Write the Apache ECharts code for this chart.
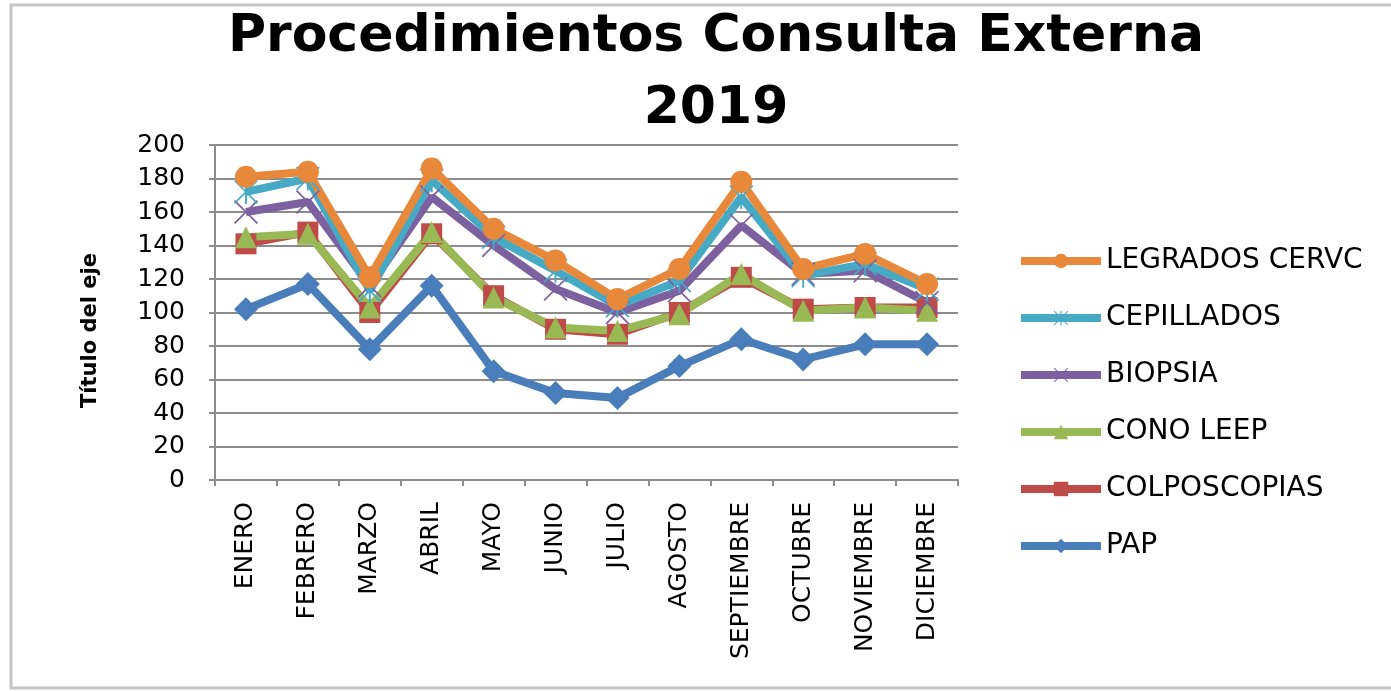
<!DOCTYPE html>
<html lang="es">
<head>
    <meta charset="UTF-8">
    <title>Procedimientos Consulta Externa 2019</title>
    <script src="https://cdn.jsdelivr.net/npm/echarts@6/dist/echarts.min.js"></script>
    <style>
        html, body { margin: 0; padding: 0; background: #fff; }
        #graph { width: 1391px; height: 691px; }
    </style>
</head>
<body>
<div id="graph"></div>

<script>
    // data
    var meses = ['ENERO', 'FEBRERO', 'MARZO', 'ABRIL', 'MAYO', 'JUNIO', 'JULIO', 'AGOSTO', 'SEPTIEMBRE', 'OCTUBRE', 'NOVIEMBRE', 'DICIEMBRE'];
    var legrados = [181, 184, 121, 186, 150, 131, 108, 126, 178, 126, 135, 117];
    var cepillados = [172, 180, 113, 179, 145, 125, 104, 119, 169, 122, 129, 114];
    var biopsia = [160, 166, 116, 169, 140, 114, 100, 113, 152, 123, 125, 106];
    var conoLeep = [145, 147, 103, 148, 109, 91, 89, 99, 123, 101, 103, 101];
    var colposcopias = [141, 148, 100, 147, 110, 90, 87, 100, 121, 102, 103, 103];
    var pap = [102, 117, 78, 116, 65, 52, 49, 68, 84, 72, 81, 81];

    // marker shapes
    var xMark = 'path://M-10,-9 L-9,-10 L10,9 L9,10 Z M-10,9 L9,-10 L10,-9 L-9,10 Z';
    var starMark = xMark + ' M-0.8,-10 L0.8,-10 L0.8,10 L-0.8,10 Z';

    function serie(name, data, color, symbol, size){
        return {
            name: name,
            type: 'line',
            data: data,
            symbol: symbol,
            symbolSize: size,
            showAllSymbol: true,
            lineStyle: { color: color, width: 8 },
            itemStyle: { color: color },
            emphasis: { disabled: true }
        };
    }

    var chartDom = document.getElementById('graph');
    var myChart = echarts.init(chartDom);
    var option;

    option = {
    animation: false,
    title: {
        text: 'Procedimientos Consulta Externa\n2019',
        left: 711,
        textAlign: 'center',
        top: -4,
        textStyle: {
            fontFamily: 'DejaVu Sans',
            fontWeight: 'bold',
            fontSize: 52,
            lineHeight: 72,
            color: '#000'
        }
    },
    graphic: [{
        type: 'rect',
        shape: { x: 11, y: 5, width: 1385, height: 683 },
        style: { fill: 'none', stroke: '#c4c4c4', lineWidth: 3 },
        silent: true
    }],
    legend: {
        orient: 'vertical',
        left: 1012,
        top: 242,
        itemWidth: 80,
        itemHeight: 18,
        itemGap: 29,
        lineStyle: { width: 8 },
        textStyle: { fontFamily: 'DejaVu Sans', fontSize: 28, color: '#000' },
        data: ['LEGRADOS CERVC', 'CEPILLADOS', 'BIOPSIA', 'CONO LEEP', 'COLPOSCOPIAS', 'PAP']
    },
    grid: {
        left: 215,
        right: 433,
        top: 145,
        bottom: 211,
        containLabel: false
    },
    xAxis: [
        {
            type: 'category',
            data: meses,
            boundaryGap: true,
            axisLine: { lineStyle: { color: '#8c8c8c', width: 2 } },
            axisTick: { show: true, length: 6, lineStyle: { color: '#8c8c8c', width: 2 } },
            axisLabel: {
                rotate: 90,
                interval: 0,
                margin: 22,
                fontFamily: 'DejaVu Sans',
                fontSize: 25,
                color: '#000'
            }
        }
    ],
    yAxis: [
        {
            type: 'value',
            min: 0,
            max: 200,
            interval: 20,
            name: 'Título del eje',
            nameLocation: 'middle',
            nameGap: 114,
            nameRotate: 90,
            nameTextStyle: { fontFamily: 'DejaVu Sans', fontWeight: 'bold', fontSize: 21, color: '#000', padding: [0, 36, 0, 0] },
            axisLine: { show: true, lineStyle: { color: '#8c8c8c', width: 2 } },
            axisTick: { show: true, length: 6, lineStyle: { color: '#8c8c8c', width: 2 } },
            splitLine: { lineStyle: { color: '#8c8c8c', width: 2 } },
            axisLabel: {
                margin: 30,
                fontFamily: 'DejaVu Sans',
                fontSize: 25,
                color: '#000'
            }
        }
    ],
    series: [
        serie('PAP', pap, '#4a7ebb', 'diamond', 24),
        serie('COLPOSCOPIAS', colposcopias, '#be4b48', 'rect', 21),
        serie('CONO LEEP', conoLeep, '#98b954', 'triangle', 22),
        serie('BIOPSIA', biopsia, '#7d60a0', xMark, 24),
        serie('CEPILLADOS', cepillados, '#46aac5', starMark, 24),
        serie('LEGRADOS CERVC', legrados, '#e8883a', 'circle', 22)
    ]
    };

    option && myChart.setOption(option);
</script>
</body>
</html>
